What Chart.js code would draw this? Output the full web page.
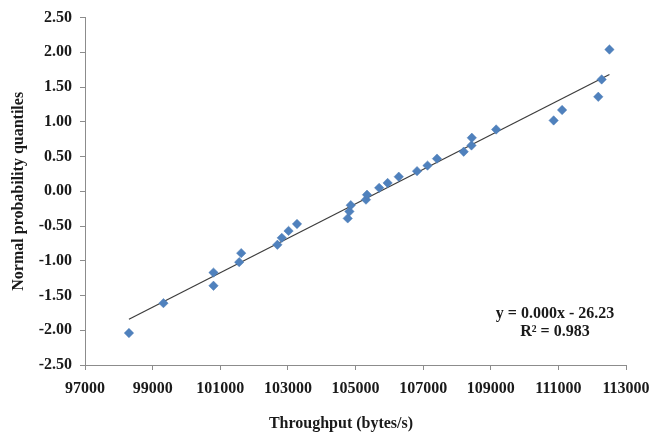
<!DOCTYPE html>
<html>
<head>
<meta charset="utf-8">
<title>Normal probability plot</title>
<script src="https://cdn.jsdelivr.net/npm/chart.js@4.4.1/dist/chart.umd.min.js"></script>
<style>
    html, body { margin: 0; padding: 0; background: #fff; }
    #wrap { width: 650px; height: 434px; }
</style>
</head>
<body>
<div id="wrap"><canvas id="qqChart" width="650" height="434"></canvas></div>
<script>
// Data
const throughput = [98300, 99320, 100800, 100800, 101560, 101620, 102690, 102820, 103020, 103270,
    104770, 104820, 104860, 105310, 105340, 105700, 105950, 106280, 106820, 107130,
    107410, 108200, 108430, 108440, 109160, 110860, 111110, 112180, 112280, 112510];
const quantiles = [-2.04, -1.61, -1.36, -1.17, -1.02, -0.89, -0.77, -0.67, -0.57, -0.47,
    -0.39, -0.29, -0.20, -0.12, -0.05, 0.05, 0.12, 0.21, 0.29, 0.37,
    0.47, 0.57, 0.66, 0.77, 0.89, 1.02, 1.17, 1.36, 1.61, 2.04];

const xTicks = [97000, 99000, 101000, 103000, 105000, 107000, 109000, 111000, 113000];
const yTicks = [-2.5, -2.0, -1.5, -1.0, -0.5, 0.0, 0.5, 1.0, 1.5, 2.0, 2.5];

const xTitle = 'Throughput (bytes/s)';
const yTitle = 'Normal probability quantiles';
const equationLines = ['y = 0.000x - 26.23', 'R\u00B2 = 0.983'];

const FONT = "'Liberation Serif', 'Times New Roman', serif";
const TEXT = '#1a1a1a';
const AXIS = '#8c8c8c';

// Linear trendline (least squares) over the data
function linearFit(xs, ys) {
    const n = xs.length;
    let sx = 0, sy = 0, sxx = 0, sxy = 0;
    for (let i = 0; i < n; i++) {
        sx += xs[i]; sy += ys[i];
        sxx += xs[i] * xs[i]; sxy += xs[i] * ys[i];
    }
    const slope = (n * sxy - sx * sy) / (n * sxx - sx * sx);
    const intercept = (sy - slope * sx) / n;
    return { slope, intercept };
}

const fit = linearFit(throughput, quantiles);
const xMin = Math.min(...throughput);
const xMax = Math.max(...throughput);
const trendPoints = [
    { x: xMin, y: fit.slope * xMin + fit.intercept },
    { x: xMax, y: fit.slope * xMax + fit.intercept }
];

// Extra texts: x axis title and equation label
const textPlugin = {
    id: 'textPlugin',
    afterDraw(chart) {
        const ctx = chart.ctx;
        ctx.save();
        ctx.fillStyle = TEXT;
        ctx.font = 'bold 16px ' + FONT;
        ctx.textAlign = 'center';
        ctx.textBaseline = 'middle';
        ctx.fillText(xTitle, 341, 424);
        ctx.fillText(equationLines[0], 555, 314);
        ctx.fillText(equationLines[1], 555, 332);
        ctx.restore();
    }
};

new Chart(document.getElementById('qqChart'), {
    type: 'scatter',
    data: {
        datasets: [{
            label: 'Quantiles',
            data: throughput.map((x, i) => ({ x: x, y: quantiles[i] })),
            pointStyle: 'rectRot',
            pointRadius: 4.7,
            pointHoverRadius: 4.7,
            backgroundColor: '#4F81BD',
            borderColor: '#4A7AB5',
            borderWidth: 0.5,
            order: 1
        }, {
            label: 'Linear',
            type: 'line',
            data: trendPoints,
            borderColor: '#3c3c3c',
            borderWidth: 1.2,
            pointRadius: 0,
            fill: false,
            order: 2
        }]
    },
    options: {
        responsive: false,
        animation: false,
        devicePixelRatio: 1,
        layout: { padding: { left: 0, right: 24, top: 15, bottom: 0 } },
        plugins: {
            legend: { display: false },
            tooltip: { enabled: false }
        },
        scales: {
            x: {
                type: 'linear',
                min: 97000,
                max: 113000,
                afterBuildTicks: scale => { scale.ticks = xTicks.map(v => ({ value: v })); },
                afterFit: scale => {
                    scale.height = 69;
                    scale.paddingLeft = 0;
                    scale.paddingRight = 0;
                },
                grid: { drawOnChartArea: false, drawTicks: true, tickLength: 5, color: AXIS },
                border: { color: AXIS, width: 1 },
                ticks: {
                    color: TEXT,
                    padding: 9,
                    maxRotation: 0,
                    font: { family: FONT, size: 16, weight: 'bold' },
                    callback: v => String(v)
                }
            },
            y: {
                type: 'linear',
                min: -2.5,
                max: 2.5,
                afterBuildTicks: scale => { scale.ticks = yTicks.map(v => ({ value: v })); },
                afterFit: scale => { scale.width = 85; },
                grid: { drawOnChartArea: false, drawTicks: true, tickLength: 5, color: AXIS },
                border: { color: AXIS, width: 1 },
                ticks: {
                    color: TEXT,
                    padding: 8,
                    font: { family: FONT, size: 16, weight: 'bold' },
                    callback: v => Number(v).toFixed(2)
                },
                title: {
                    display: true,
                    text: yTitle,
                    color: TEXT,
                    padding: { top: 9, bottom: 0 },
                    font: { family: FONT, size: 16, weight: 'bold' }
                }
            }
        }
    },
    plugins: [textPlugin]
});
</script>
</body>
</html>
